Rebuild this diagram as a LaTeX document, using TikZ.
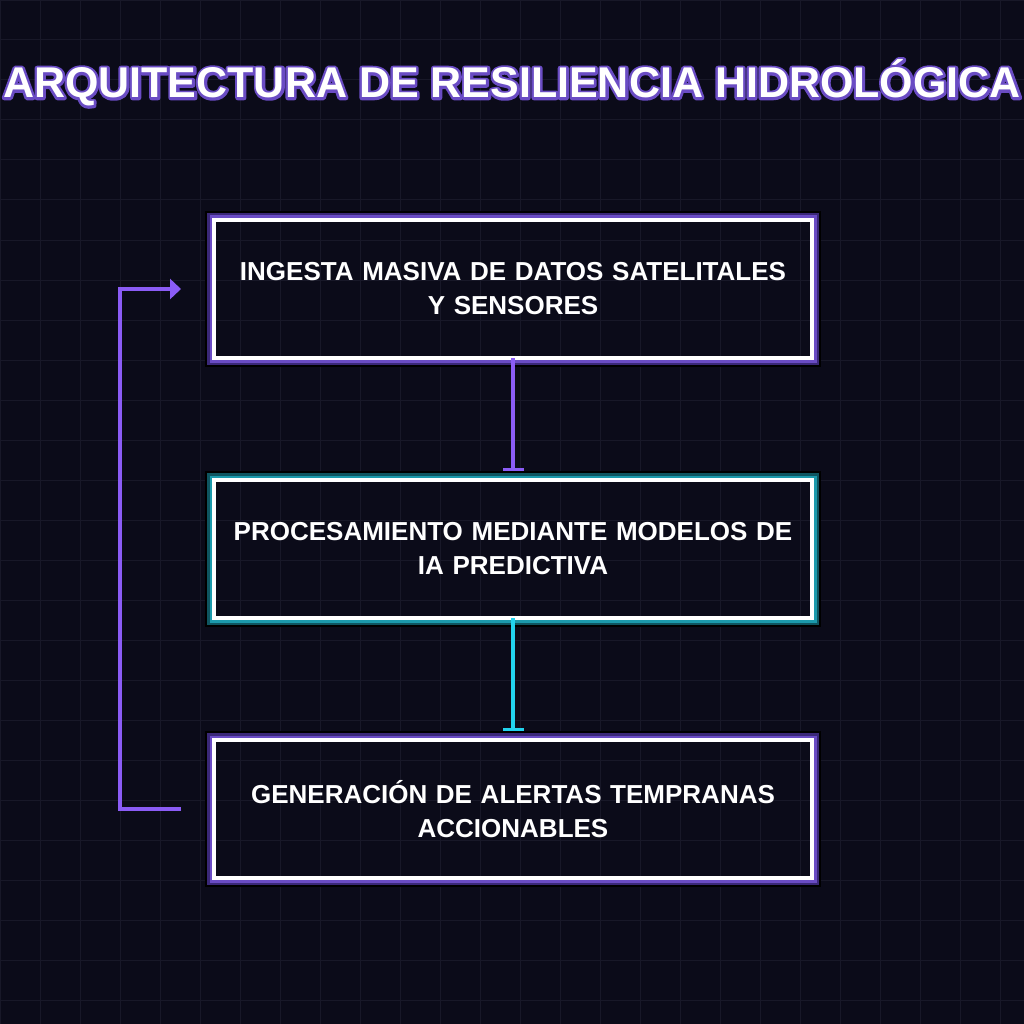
\documentclass[tikz,border=0pt]{standalone}
\usepackage{fontspec}
\setmainfont{Liberation Sans}
\usetikzlibrary{arrows.meta, positioning}

\definecolor{bgdark}{HTML}{0B0B19}
\definecolor{gridline}{HTML}{181828}
\definecolor{violetline}{HTML}{8B5CF6}
\definecolor{violetglow}{HTML}{6A4CC4}
\definecolor{violetdeep}{HTML}{3A2878}
\definecolor{cyanline}{HTML}{22D3EE}
\definecolor{tealglow}{HTML}{1C9AAC}
\definecolor{tealdeep}{HTML}{0E5560}

% stroked outline of a text (violet), drawn under the white text
\newcommand{\outlinetext}[1]{%
  \special{pdf:literal direct 1 Tr 5 w 1 j 0.416 0.298 0.769 RG}#1\special{pdf:literal direct 0 Tr 1 w}}

% glow rings outside a box: name, light colour, deep colour
\newcommand{\glowframe}[3]{%
  \draw[black, line width=2pt] ([shift={(-8pt,8pt)}]#1.north west) rectangle ([shift={(8pt,-8pt)}]#1.south east);
  \draw[#3, line width=2.5pt] ([shift={(-5.75pt,5.75pt)}]#1.north west) rectangle ([shift={(5.75pt,-5.75pt)}]#1.south east);
  \draw[#2, line width=2.5pt] ([shift={(-3.25pt,3.25pt)}]#1.north west) rectangle ([shift={(3.25pt,-3.25pt)}]#1.south east);
}

\begin{document}
\begin{tikzpicture}[
    x=1pt, y=-1pt,
    titletext/.style = {inner sep=0pt, font=\fontsize{43}{50}\selectfont\bfseries},
    stagebox/.style = {rectangle, draw=white, line width=4pt, outer sep=0pt, inner sep=0pt,
      minimum width=598pt, minimum height=138pt, text width=580pt, align=center,
      text=white, font=\fontsize{26}{34}\selectfont\bfseries},
    flowlink/.style = {line width=4pt, -{Bar[width=21pt, line width=2.5pt]}},
    backlink/.style = {draw=violetline, line width=4pt, -{Triangle[length=11pt, width=20pt]}}
]

% Background
\useasboundingbox (0,0) rectangle (1024,1024);
\fill[bgdark] (0,0) rectangle (1024,1024);
\draw[gridline, line width=1pt] (0,0) grid[step=40pt] (1024,1024);

% Title
\node (title_glow) [titletext] at (512,83) {\outlinetext{ARQUITECTURA DE RESILIENCIA HIDROLÓGICA}};
\node (title) [titletext, text=white] at (title_glow.center) {ARQUITECTURA DE RESILIENCIA HIDROLÓGICA};

% Nodes
\node (n_ingest) [stagebox] at (513,289) {INGESTA MASIVA DE DATOS SATELITALES\\Y SENSORES};
\node (n_model) [stagebox, below=122pt of n_ingest] {PROCESAMIENTO MEDIANTE MODELOS DE\\IA PREDICTIVA};
\node (n_alert) [stagebox, below=122pt of n_model] {GENERACIÓN DE ALERTAS TEMPRANAS\\ACCIONABLES};

\glowframe{n_ingest}{violetglow}{violetdeep}
\glowframe{n_model}{tealglow}{tealdeep}
\glowframe{n_alert}{violetglow}{violetdeep}

% Connections
\draw [flowlink, violetline] (n_ingest.south) -- ([yshift=9.5pt]n_model.north);
\draw [flowlink, cyanline] (n_model.south) -- ([yshift=9.5pt]n_alert.north);
\draw [backlink] ([xshift=-33pt]n_alert.west) -- ++(-61,0) |- ([xshift=-33pt]n_ingest.west);

\end{tikzpicture}
\end{document}
